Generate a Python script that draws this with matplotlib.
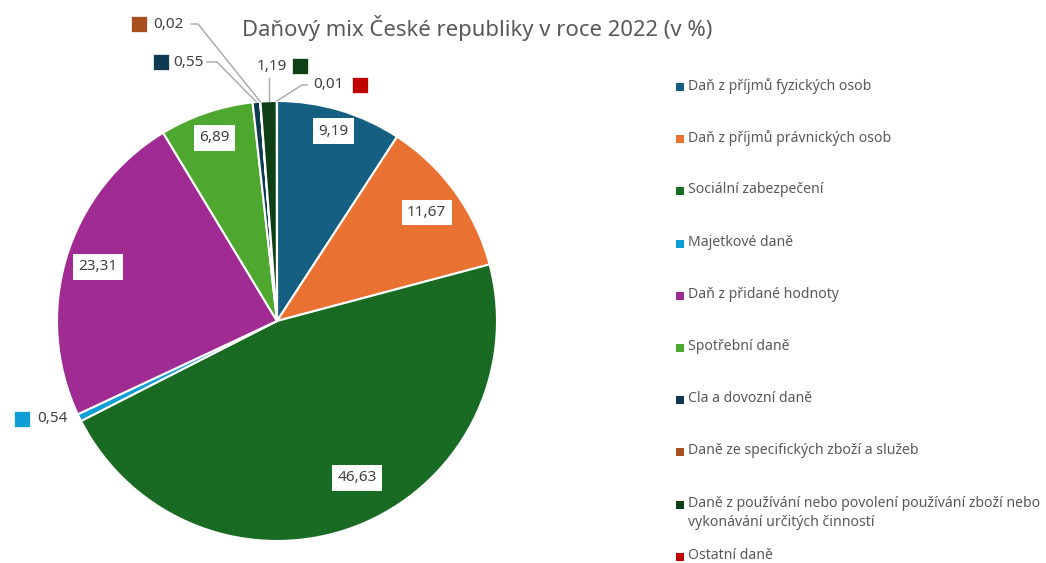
import numpy as np
import matplotlib
matplotlib.use("Agg")
import matplotlib.pyplot as plt
from matplotlib.patches import Rectangle

plt.rcParams['font.family'] = ['Noto Sans', 'DejaVu Sans']

categories = [
    "Daň z příjmů fyzických osob",
    "Daň z příjmů právnických osob",
    "Sociální zabezpečení",
    "Majetkové daně",
    "Daň z přidané hodnoty",
    "Spotřební daně",
    "Cla a dovozní daně",
    "Daně ze specifických zboží a služeb",
    "Daně z používání nebo povolení používání zboží nebo\nvykonávání určitých činností",
    "Ostatní daně",
]
values = [9.19, 11.67, 46.63, 0.54, 23.31, 6.89, 0.55, 0.02, 1.19, 0.01]
colors = ["#156082", "#E97132", "#196B24", "#0F9ED5", "#A02B93",
          "#4EA72E", "#0E3A52", "#A5501E", "#0F4015", "#C00000"]
title = "Daňový mix České republiky v roce 2022 (v %)"

W, H = 1046, 563
fig = plt.figure(figsize=(W / 100, H / 100), dpi=100)

# pie axes: centre (277, 321) px, radius 220 px
cx, cy, R = 277, 321, 220
ax = fig.add_axes([(cx - R) / W, (H - cy - R) / H, 2 * R / W, 2 * R / H])
wedges, _ = ax.pie(values, colors=colors, startangle=90, counterclock=False,
                   radius=1, wedgeprops=dict(edgecolor="white", linewidth=1.5))
ax.set_xlim(-1, 1)
ax.set_ylim(-1, 1)
ax.set_aspect("equal")
ax.axis("off")

def fmt(v):
    return f"{v:.2f}".replace(".", ",")

def px(x, y):
    return (x - cx) / R, (cy - y) / R

txt_col = "#404040"
lab_fs = 11

# inside labels (white boxes)
inside = {0: 0.9, 1: 0.84, 2: 0.8, 4: 0.85, 5: 0.88}
for i, r in inside.items():
    w = wedges[i]
    ang = np.deg2rad((w.theta1 + w.theta2) / 2)
    if i == 2:
        ang = np.deg2rad(-63)
    ax.text(r * np.cos(ang), r * np.sin(ang), fmt(values[i]), ha="center", va="center",
            fontsize=lab_fs, color=txt_col,
            bbox=dict(boxstyle="square,pad=0.35", fc="white", ec="none"))

# outside labels: index -> (text_x_px, y_px, ha, square_x_px, line_start_px, elbow_px)
outside = {
    3: (37, 419, "left", 22, None, None),
    6: (173, 62, "left", 161, 207, 217),
    7: (153, 24, "left", 139, 191, 198),
    8: (287, 66, "right", 300, None, None),
    9: (313, 85, "left", 360, 307, 302),
}
sq = 16 / R
for i, (tx, ty, ha, sx, ls, el) in outside.items():
    x, y = px(tx, ty)
    ax.text(x, y, fmt(values[i]), ha=ha, va="center", fontsize=lab_fs, color=txt_col,
            clip_on=False)
    sxd, syd = px(sx, ty)
    ax.add_patch(Rectangle((sxd - sq / 2, syd - sq / 2), sq, sq, fc=colors[i],
                           ec="white", lw=0.5, clip_on=False))
    w = wedges[i]
    ang = np.deg2rad((w.theta1 + w.theta2) / 2)
    ex, ey = np.cos(ang), np.sin(ang)
    if i == 8:
        x0, y0 = px(269, 78)
        ax.plot([ex, ex], [y0, ey], color="#a6a6a6", lw=1, clip_on=False)
    elif ls is not None:
        x0, _ = px(ls, ty)
        x1, _ = px(el, ty)
        ax.plot([x0, x1, ex], [y, y, ey], color="#a6a6a6", lw=1, clip_on=False)

fig.text(477 / W, 1 - 28 / H, title, ha="center", va="center", fontsize=15.9,
         color="#595959")

# legend
leg_y0, leg_dy = 87, 52.2
for i, (lab, c) in enumerate(zip(categories, colors)):
    yy = leg_y0 + leg_dy * i
    fig.patches.append(Rectangle((675.5 / W, 1 - (yy + 4) / H), 8 / W, 8 / H,
                                 fc=c, ec="none", transform=fig.transFigure,
                                 figure=fig))
    fig.text(688 / W, 1 - (yy - 9) / H, lab, ha="left", va="top", fontsize=10.1,
             color="#595959", linespacing=1.4)

fig.savefig("out.png", dpi=100)
